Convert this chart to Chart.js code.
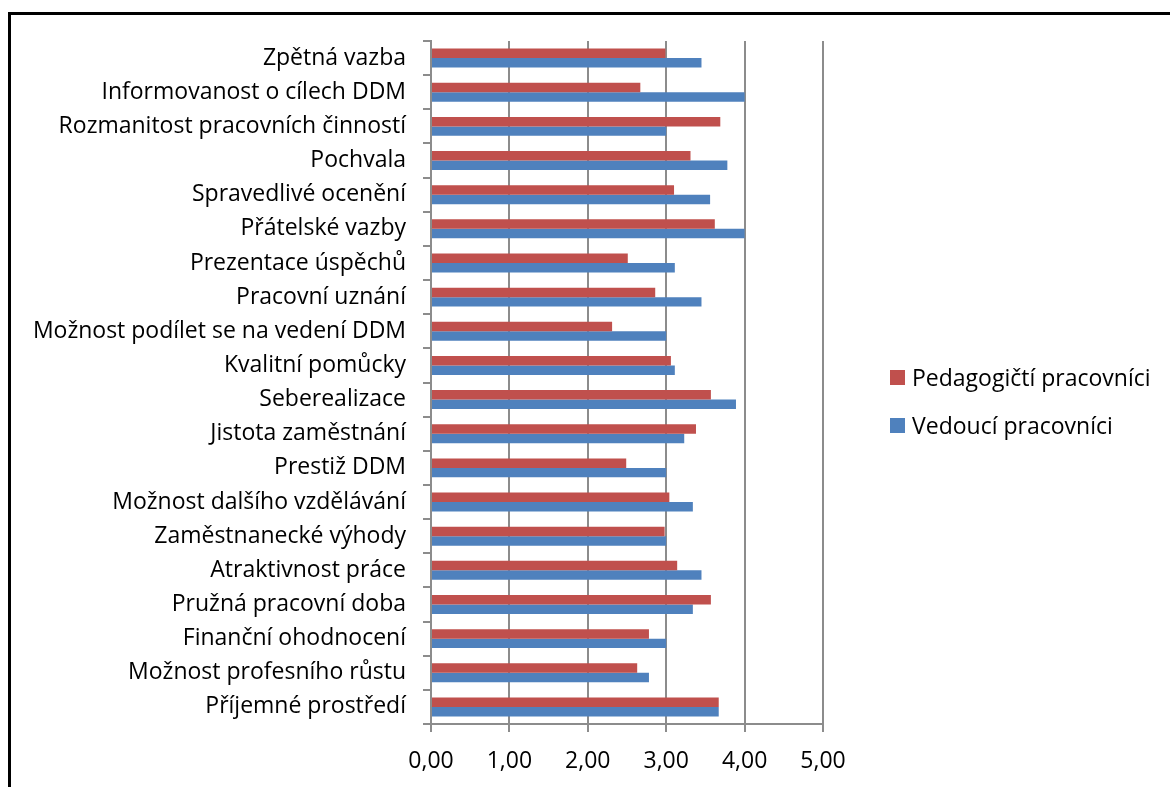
<!DOCTYPE html>
<html lang="cs">
<head>
    <meta charset="UTF-8">
    <title>Motivační faktory DDM</title>
    <script src="https://cdn.jsdelivr.net/npm/chart.js"></script>
    <style>
        html, body {
            margin: 0;
            padding: 0;
            background: white;
            overflow: hidden;
            font-family: "Open Sans", "Noto Sans", sans-serif;
        }
        #frame {
            position: absolute;
            left: 8px;
            top: 12px;
            width: 1200px;
            height: 800px;
            border-left: 3px solid black;
            border-top: 3px solid black;
        }
        #chartBox {
            position: absolute;
            left: 0;
            top: 0;
            width: 1170px;
            height: 787px;
        }
        #legend {
            position: absolute;
            left: 890px;
            top: 365px;
        }
        .legend-item {
            display: flex;
            align-items: center;
            height: 24px;
            margin-bottom: 24px;
            font-size: 23px;
            color: black;
            white-space: nowrap;
        }
        .legend-box {
            width: 15px;
            height: 15px;
            margin-right: 7px;
        }
    </style>
</head>
<body>
    <div id="frame"></div>
    <div id="chartBox">
        <canvas id="barChart"></canvas>
    </div>
    <div id="legend"></div>

    <script>
        const categories = [
            'Zpětná vazba',
            'Informovanost o cílech DDM',
            'Rozmanitost pracovních činností',
            'Pochvala',
            'Spravedlivé ocenění',
            'Přátelské vazby',
            'Prezentace úspěchů',
            'Pracovní uznání',
            'Možnost podílet se na vedení DDM',
            'Kvalitní pomůcky',
            'Seberealizace',
            'Jistota zaměstnání',
            'Prestiž DDM',
            'Možnost dalšího vzdělávání',
            'Zaměstnanecké výhody',
            'Atraktivnost práce',
            'Pružná pracovní doba',
            'Finanční ohodnocení',
            'Možnost profesního růstu',
            'Příjemné prostředí'
        ];

        const pedagogicti = [2.99, 2.67, 3.69, 3.31, 3.10, 3.62, 2.51, 2.86, 2.31, 3.06,
                             3.57, 3.38, 2.49, 3.04, 2.98, 3.14, 3.57, 2.78, 2.63, 3.67];
        const vedouci = [3.45, 4.00, 3.00, 3.78, 3.56, 4.00, 3.11, 3.45, 3.00, 3.11,
                         3.89, 3.23, 3.00, 3.34, 3.00, 3.45, 3.34, 3.00, 2.78, 3.67];

        const xTicks = [0, 1, 2, 3, 4, 5];

        const font = '"Open Sans", "Noto Sans", sans-serif';
        const gridColor = '#8c8c8c';

        let ctx = document.getElementById('barChart').getContext('2d');
        let chart = new Chart(ctx, {
            type: 'bar',
            data: {
                labels: categories,
                datasets: [
                    {
                        label: 'Pedagogičtí pracovníci',
                        data: pedagogicti,
                        backgroundColor: '#C0504D'
                    },
                    {
                        label: 'Vedoucí pracovníci',
                        data: vedouci,
                        backgroundColor: '#4F81BD'
                    }
                ]
            },
            options: {
                indexAxis: 'y',
                responsive: true,
                maintainAspectRatio: false,
                animation: false,
                categoryPercentage: 0.556,
                barPercentage: 1.0,
                layout: { padding: { top: 41, left: 0, right: 347, bottom: 0 } },
                plugins: {
                    tooltip: { enabled: false },
                    legend: { display: false }
                },
                scales: {
                    x: {
                        min: 0,
                        max: 5,
                        afterBuildTicks: (s) => { s.ticks = xTicks.map(v => ({ value: v })); },
                        afterFit: (s) => { s.height = 63; },
                        ticks: {
                            color: '#000',
                            padding: 16,
                            font: { family: font, size: 23 },
                            callback: (v) => v.toFixed(2).replace('.', ',')
                        },
                        grid: { color: gridColor, lineWidth: 2, tickLength: 8 },
                        border: { color: gridColor, width: 2 }
                    },
                    y: {
                        afterFit: (s) => { s.width = 431; },
                        ticks: {
                            color: '#000',
                            padding: 17,
                            autoSkip: false,
                            font: { family: font, size: 23 }
                        },
                        grid: { color: gridColor, lineWidth: 2, tickLength: 8, drawOnChartArea: false, offset: true },
                        border: { color: gridColor, width: 2 }
                    }
                }
            }
        });

        // legend next to the plot, built from the datasets
        const legend = document.getElementById('legend');
        chart.data.datasets.forEach(ds => {
            const item = document.createElement('div');
            item.className = 'legend-item';
            const box = document.createElement('span');
            box.className = 'legend-box';
            box.style.background = ds.backgroundColor;
            item.appendChild(box);
            item.appendChild(document.createTextNode(ds.label));
            legend.appendChild(item);
        });
    </script>
</body>
</html>
